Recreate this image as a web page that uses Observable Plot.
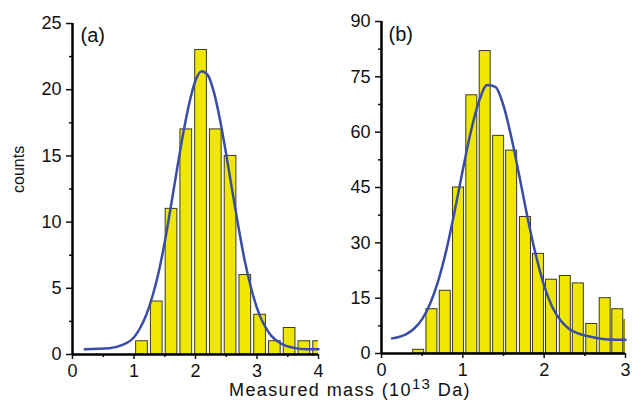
<!DOCTYPE html>
<html>
<head>
<meta charset="utf-8">
<script src="https://cdn.jsdelivr.net/npm/d3@7"></script>
<script src="https://cdn.jsdelivr.net/npm/@observablehq/plot@0.6"></script>
<style>
  html, body { margin: 0; padding: 0; background: #fff; }
  #wrap { position: relative; width: 632px; height: 404px; overflow: hidden; font-family: "Liberation Sans", Arial, sans-serif; }
  #pa, #pb { position: absolute; top: 0; }
  #pa { left: 0; }
  #pb { left: 330px; }
  #xlabel { position: absolute; left: 200px; width: 300px; top: 381px; text-align: center; font-size: 18px; line-height: 18px; letter-spacing: 1.4px; color: #111; white-space: nowrap; }
  #xlabel sup { position: relative; top: -7px; font-size: 15px; vertical-align: baseline; line-height: 0; }
</style>
</head>
<body>
<div id="wrap">
  <div id="pa"></div>
  <div id="pb"></div>
  <div id="xlabel">Measured mass (10<sup>13</sup> Da)</div>
</div>
<script>
// ---- Panel (a) data ----
const binCenterA = [1.13, 1.37, 1.61, 1.85, 2.09, 2.33, 2.57, 2.81, 3.05, 3.29, 3.53, 3.77, 4.01];
const countA     = [1, 4, 11, 17, 23, 17, 15, 6, 3, 1, 2, 1, 1];
const fitXA = [0.2, 0.6, 0.8, 1.0, 1.1, 1.2, 1.3, 1.4, 1.5, 1.6, 1.7, 1.8, 1.9, 2.0, 2.1, 2.2, 2.3, 2.4, 2.5, 2.6, 2.7, 2.8, 2.9, 3.0, 3.2, 3.4, 3.6, 3.8, 4.0];
const fitYA = [0.4, 0.47, 0.7, 1.3, 2.0, 3.0, 4.4, 6.2, 8.5, 11.2, 14.0, 16.7, 19.0, 20.7, 21.4, 21.1, 19.8, 17.7, 15.1, 12.3, 9.6, 7.1, 5.1, 3.5, 1.6, 0.8, 0.5, 0.4, 0.4];
const xTicksA = [0, 1, 2, 3, 4];
const xMinorA = [0.5, 1.5, 2.5, 3.5];
const yTicksA = [0, 5, 10, 15, 20, 25];
const yMinorA = [2.5, 7.5, 12.5, 17.5, 22.5];

// ---- Panel (b) data ----
const binCenterB = [0.457, 0.62, 0.784, 0.947, 1.11, 1.275, 1.44, 1.60, 1.77, 1.93, 2.09, 2.26, 2.42, 2.585, 2.75, 2.905, 3.055];
const countB     = [1, 12, 17, 45, 70, 82, 59, 55, 37, 27, 20, 21, 19, 8, 15, 12, 9];
const fitXB = [0.13, 0.2, 0.3, 0.4, 0.5, 0.6, 0.7, 0.8, 0.9, 1.0, 1.1, 1.2, 1.3, 1.4, 1.5, 1.6, 1.7, 1.8, 1.9, 2.0, 2.1, 2.2, 2.3, 2.4, 2.5, 2.6, 2.7, 2.8, 3.0];
const fitYB = [4.1, 4.4, 5.2, 6.7, 9.3, 13.6, 19.9, 28.3, 38.6, 49.8, 60.3, 68.5, 72.8, 72.3, 67.2, 58.3, 47.5, 36.4, 26.5, 18.4, 12.6, 9.0, 6.8, 5.6, 4.9, 4.4, 4.0, 3.8, 3.7];
const xTicksB = [0, 1, 2, 3];
const xMinorB = [0.5, 1.5, 2.5];
const yTicksB = [0, 15, 30, 45, 60, 75, 90];
const yMinorB = [7.5, 22.5, 37.5, 52.5, 67.5, 82.5];

// ---- styles ----
const BAR_FILL = "#efe700";
const BAR_STROKE = "#3a3a2a";
const FIT_COLOR = "#3a4da6";
const FONT = "Liberation Sans, Arial, sans-serif";

function panel({centers, counts, barW, fitX, fitY, xDomain, yDomain, xTicks, xMinor, yTicks, yMinor,
                width, mL, mR, mT, mB, tag, tagDx, tagDy, ylabel}) {
  const bars = centers.map((c, i) => ({c, n: counts[i]}));
  const fit = fitX.map((x, i) => ({x, y: fitY[i]}));
  const marks = [
    Plot.rectY(bars, {x1: d => d.c - barW / 2, x2: d => d.c + barW / 2, y: "n",
      fill: BAR_FILL, stroke: BAR_STROKE, strokeWidth: 1, clip: true}),
    Plot.line(fit, {x: "x", y: "y", stroke: FIT_COLOR, strokeWidth: 2.5, curve: "monotone-x"}),
    Plot.axisX({ticks: xTicks, tickSize: 5, tickPadding: 5, fontSize: 18, strokeWidth: 1.5, label: null, tickFormat: d => String(d)}),
    Plot.axisX({ticks: xMinor, tickSize: 3, strokeWidth: 1.5, label: null, tickFormat: () => ""}),
    Plot.axisY({ticks: yTicks, tickSize: 6, tickPadding: 5, fontSize: 18, strokeWidth: 1.5, label: null, tickFormat: d => String(d)}),
    Plot.axisY({ticks: yMinor, tickSize: 3, strokeWidth: 1.5, label: null, tickFormat: () => ""}),
    Plot.ruleY([yDomain[0]], {stroke: "#000", strokeWidth: 2.5}),
    Plot.ruleX([xDomain[0]], {stroke: "#000", strokeWidth: 2.5}),
    Plot.text([tag], {frameAnchor: "top-left", dx: tagDx, dy: tagDy, fontSize: 20, textAnchor: "start", lineAnchor: "middle", fill: "#111"})
  ];
  if (ylabel) {
    marks.push(Plot.text([ylabel], {frameAnchor: "left", dx: -54, dy: 4, rotate: -90, fontSize: 16, fill: "#111"}));
  }
  return Plot.plot({
    width, height: 404,
    marginLeft: mL, marginRight: mR, marginTop: mT, marginBottom: mB,
    style: {fontFamily: FONT, fontSize: "18px", color: "#111", background: "transparent", overflow: "visible"},
    x: {domain: xDomain},
    y: {domain: yDomain},
    marks
  });
}

document.getElementById("pa").append(panel({
  centers: binCenterA, counts: countA, barW: 0.19, fitX: fitXA, fitY: fitYA,
  xDomain: [0, 4], yDomain: [0, 25], xTicks: xTicksA, xMinor: xMinorA, yTicks: yTicksA, yMinor: yMinorA,
  width: 330, mL: 72, mR: 12, mT: 23, mB: 50, tag: "(a)", tagDx: 8, tagDy: 12, ylabel: "counts"
}));

document.getElementById("pb").append(panel({
  centers: binCenterB, counts: countB, barW: 0.135, fitX: fitXB, fitY: fitYB,
  xDomain: [0, 3], yDomain: [0, 90], xTicks: xTicksB, xMinor: xMinorB, yTicks: yTicksB, yMinor: yMinorB,
  width: 302, mL: 51, mR: 7, mT: 21, mB: 51, tag: "(b)", tagDx: 7, tagDy: 13, ylabel: null
}));
</script>
</body>
</html>
